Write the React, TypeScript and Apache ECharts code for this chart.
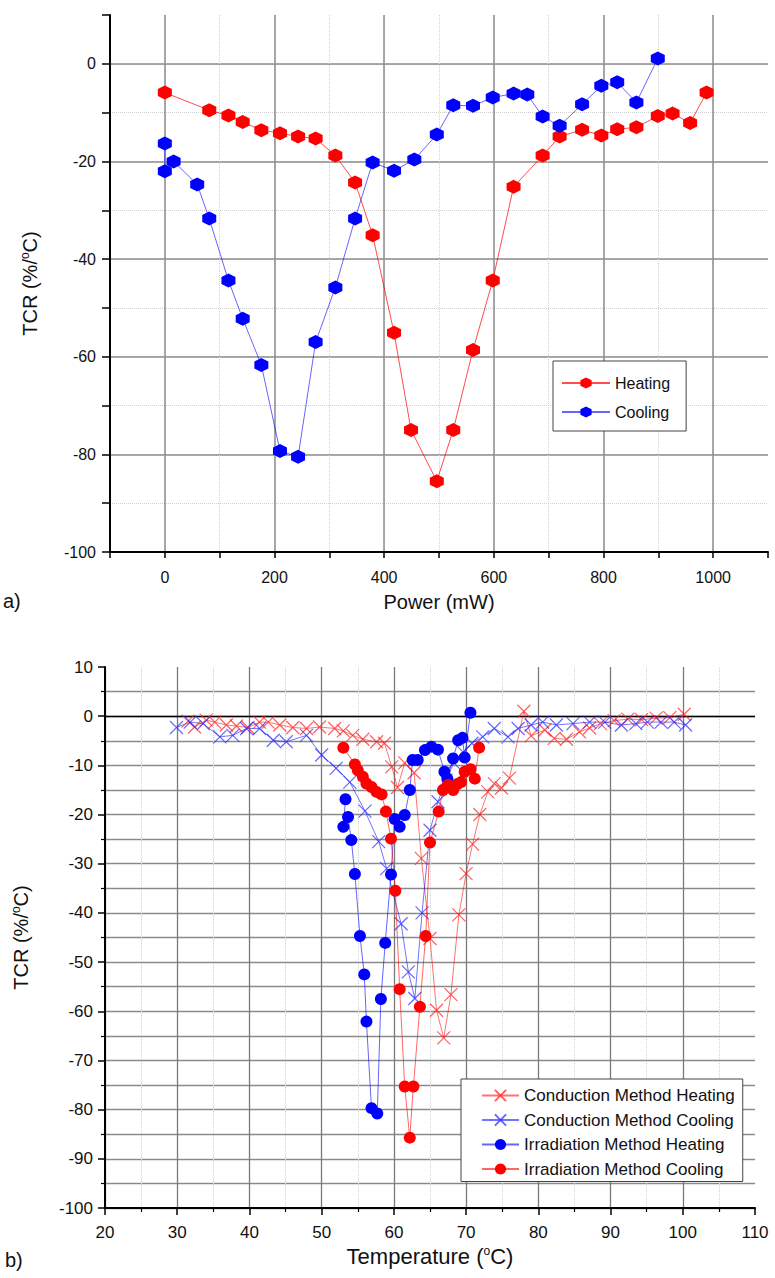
import React, { useEffect, useRef } from 'react';
import * as echarts from 'echarts';

// ---- Panel a) : TCR vs Power ----
const powerHeatingX = [0, 81, 116, 142, 176, 210, 243, 275, 311, 347, 379, 418, 449, 496, 526, 562, 598, 636, 689, 720, 761, 796, 825, 860, 899, 926, 958, 988];
const powerHeatingY = [-5.9, -9.5, -10.6, -11.9, -13.6, -14.2, -14.9, -15.3, -18.8, -24.3, -35.1, -55.1, -75.0, -85.5, -75.0, -58.6, -44.4, -25.2, -18.8, -14.9, -13.5, -14.7, -13.4, -13.0, -10.7, -10.2, -12.1, -5.9];
const powerCoolingX = [0, 0, 16, 59, 81, 116, 142, 176, 210, 243, 275, 311, 347, 379, 418, 455, 496, 526, 562, 598, 636, 661, 689, 720, 761, 796, 825, 860, 899];
const powerCoolingY = [-16.3, -22.0, -20.0, -24.7, -31.7, -44.4, -52.2, -61.7, -79.3, -80.5, -57.0, -45.8, -31.7, -20.2, -21.9, -19.6, -14.5, -8.5, -8.6, -6.9, -6.1, -6.3, -10.8, -12.7, -8.3, -4.5, -3.8, -7.9, 1.1];

// ---- Panel b) : TCR vs Temperature ----
const condHeatT = [31.5, 32.4, 34.0, 35.2, 36.8, 38.2, 39.8, 41.4, 42.6, 44.2, 46.0, 47.9, 49.7, 51.8, 53.0, 54.3, 55.7, 57.6, 58.7, 59.7, 60.5, 61.5, 62.8, 63.8, 65.0, 65.9, 66.9, 67.9, 69.0, 70.0, 70.9, 71.9, 73.0, 73.9, 74.9, 76.0, 78.0, 79.0, 80.9, 82.2, 83.9, 85.7, 87.1, 88.6, 90.5, 92.4, 94.3, 96.3, 98.2, 100.2];
const condHeatV = [-1.0, -2.2, -0.8, -1.2, -1.8, -2.0, -2.3, -1.2, -1.2, -1.8, -2.3, -2.5, -2.2, -2.5, -3.0, -3.9, -4.7, -5.2, -5.5, -10.3, -14.5, -9.5, -11.5, -28.9, -45.2, -59.8, -65.4, -56.6, -40.4, -32.0, -26.0, -20.0, -15.4, -13.7, -14.6, -12.6, 1.0, -4.0, -2.8, -4.5, -4.7, -3.2, -2.4, -1.5, -0.9, -0.6, -0.7, -0.4, -0.3, 0.4];
const condCoolT = [29.9, 31.8, 33.6, 35.9, 37.7, 39.6, 41.4, 43.3, 45.1, 47.9, 50.0, 52.0, 53.9, 56.0, 57.9, 59.0, 61.0, 62.0, 62.9, 63.9, 65.0, 66.1, 67.2, 68.3, 69.6, 70.8, 72.3, 73.9, 75.8, 77.2, 79.0, 80.6, 82.5, 84.8, 87.1, 89.2, 91.5, 93.5, 95.1, 97.0, 98.8, 100.4];
const condCoolV = [-2.3, -1.2, -1.5, -4.2, -3.9, -2.5, -2.5, -4.9, -5.2, -3.9, -7.9, -10.6, -13.4, -19.3, -25.5, -31.0, -42.2, -52.0, -57.4, -40.0, -23.2, -17.4, -13.0, -9.5, -7.3, -5.5, -4.2, -2.5, -4.2, -2.5, -1.8, -1.2, -1.8, -1.5, -1.2, -1.2, -1.8, -1.5, -1.2, -1.2, -1.2, -1.8];
const irrHeatT = [53.3, 53.0, 53.65, 54.1, 54.6, 55.3, 55.9, 56.2, 56.9, 57.7, 58.2, 58.8, 59.6, 60.1, 60.8, 61.5, 62.2, 62.6, 63.3, 64.3, 65.2, 66.1, 67.0, 67.4, 68.2, 68.9, 69.5, 69.8, 70.6];
const irrHeatV = [-16.9, -22.5, -20.5, -25.2, -32.1, -44.7, -52.5, -62.1, -79.7, -80.8, -57.5, -46.1, -32.2, -20.9, -22.5, -20.1, -15.0, -8.9, -8.9, -6.9, -6.2, -6.8, -11.3, -12.7, -8.6, -4.9, -4.4, -8.4, 0.7];
const irrCoolT = [53.0, 54.6, 55.0, 55.7, 56.2, 56.9, 57.6, 58.3, 58.9, 59.6, 60.2, 60.8, 61.5, 62.2, 62.7, 63.6, 64.4, 65.0, 66.2, 66.8, 67.5, 68.2, 68.8, 69.3, 69.8, 70.6, 71.2, 71.8];
const irrCoolV = [-6.4, -9.8, -11.0, -12.3, -13.7, -14.4, -15.4, -15.9, -19.4, -24.9, -35.5, -55.5, -75.3, -85.7, -75.3, -59.1, -44.7, -25.7, -19.4, -15.0, -14.0, -15.0, -13.8, -13.4, -11.3, -10.8, -12.7, -6.4];

const seriesNamesA = ['Heating', 'Cooling'];
const seriesNamesB = ['Conduction Method Heating', 'Conduction Method Cooling', 'Irradiation Method Heating', 'Irradiation Method Cooling'];

const pairs = (xs: number[], ys: number[]) => xs.map((x, i) => [x, ys[i]]);

const FONT = 'Liberation Sans, Arial, Helvetica, sans-serif';
const HEX = 'path://M0,-10L8.66,-5L8.66,5L0,10L-8.66,5L-8.66,-5Z';
const CROSS = 'path://M0,0L10,10M10,0L0,10';
const supRich = { sup: { fontSize: 12, fontFamily: FONT, color: '#111', verticalAlign: 'top', padding: [0, 0, 9, 0] } };

export default function App() {
  const ref = useRef<HTMLDivElement>(null);
  useEffect(() => {
    document.body.style.margin = '0';
    if (!ref.current) return;
    const chart = echarts.init(ref.current, undefined, { renderer: 'svg' });
    const axisLine = { show: true, onZero: false, lineStyle: { color: '#000', width: 2 } };
    const option: any = {
      animation: false,
      backgroundColor: '#fff',
      textStyle: { fontFamily: FONT },
      grid: [
        { left: 110, top: 15, width: 658, height: 537 },
        { left: 105, top: 667, width: 650, height: 541 },
      ],
      xAxis: [
        {
          gridIndex: 0, type: 'value', min: -100, max: 1100, interval: 100, position: 'bottom',
          axisLine,
          axisTick: { show: true, length: 6, lineStyle: { color: '#000', width: 1.5 } },
          axisLabel: {
            formatter: (v: number) => (v % 200 === 0 && v >= 0 && v <= 1000 ? String(v) : ''),
            fontSize: 16, color: '#111', margin: 17, fontFamily: FONT,
          },
          splitLine: { show: true, showMaxLine: false, lineStyle: { color: '#cfcfcf', type: 'dotted', width: 1 } },
          name: 'Power (mW)', nameLocation: 'middle', nameGap: 40,
          nameTextStyle: { fontSize: 20, color: '#111', fontFamily: FONT },
        },
        {
          gridIndex: 0, type: 'value', min: -100, max: 1100, interval: 100, position: 'bottom',
          axisLine: { show: false }, axisTick: { show: false }, axisLabel: { show: false },
          splitLine: { show: true, lineStyle: { color: ['rgba(0,0,0,0)', '#8c8c8c'], width: 1.5 } },
        },
        {
          gridIndex: 1, type: 'value', min: 20, max: 110, interval: 10,
          axisLine,
          axisTick: { show: true, length: 7, lineStyle: { color: '#000', width: 1.5 } },
          minorTick: { show: true, splitNumber: 2, length: 4, lineStyle: { color: '#000', width: 1.2 } },
          axisLabel: { fontSize: 17, color: '#111', margin: 16, fontFamily: FONT },
          splitLine: { show: true, showMaxLine: false, lineStyle: { color: '#7a7a7a', width: 1.3 } },
          minorSplitLine: { show: true, lineStyle: { color: '#d0d0d0', type: 'dotted', width: 1 } },
          name: 'Temperature ({sup|o}C)', nameLocation: 'middle', nameGap: 37,
          nameTextStyle: { fontSize: 22, color: '#111', fontFamily: FONT, rich: supRich },
        },
      ],
      yAxis: [
        {
          gridIndex: 0, type: 'value', min: -100, max: 10, interval: 10,
          axisLine,
          axisTick: { show: true, length: 8, lineStyle: { color: '#000', width: 1.5 } },
          axisLabel: {
            formatter: (v: number) => (v % 20 === 0 && v <= 0 ? String(v) : ''),
            fontSize: 16, color: '#111', margin: 14, fontFamily: FONT,
          },
          splitLine: { show: true, showMaxLine: false, lineStyle: { color: '#cfcfcf', type: 'dotted', width: 1 } },
          name: 'TCR (%/{sup|o}C)', nameLocation: 'middle', nameGap: 70,
          nameTextStyle: { fontSize: 20, color: '#111', fontFamily: FONT, rich: supRich },
        },
        {
          gridIndex: 0, type: 'value', min: -100, max: 10, interval: 10,
          axisLine: { show: false }, axisTick: { show: false }, axisLabel: { show: false },
          splitLine: { show: true, lineStyle: { color: ['#8c8c8c', 'rgba(0,0,0,0)'], width: 1.5 } },
        },
        {
          gridIndex: 1, type: 'value', min: -100, max: 10, interval: 10,
          axisLine,
          axisTick: { show: true, length: 7, lineStyle: { color: '#000', width: 1.5 } },
          minorTick: { show: true, splitNumber: 2, length: 4, lineStyle: { color: '#000', width: 1.2 } },
          axisLabel: { fontSize: 17, color: '#111', margin: 12, fontFamily: FONT },
          splitLine: { show: true, showMaxLine: false, lineStyle: { color: '#8a8a8a', width: 1.3 } },
          minorSplitLine: { show: true, lineStyle: { color: '#8a8a8a', width: 1.3 } },
          name: 'TCR (%/{sup|o}C)', nameLocation: 'middle', nameGap: 74,
          nameTextStyle: { fontSize: 20, color: '#111', fontFamily: FONT, rich: supRich },
        },
      ],
      legend: [
        {
          data: seriesNamesA, orient: 'vertical', left: 553, top: 361,
          itemWidth: 48, itemHeight: 14, itemGap: 13, padding: [14, 16, 11, 8],
          borderColor: '#444', borderWidth: 1, backgroundColor: '#fff',
          textStyle: { fontSize: 16, color: '#111', fontFamily: FONT },
        },
        {
          data: seriesNamesB, orient: 'vertical', left: 461, top: 1079,
          itemWidth: 37, itemHeight: 14, itemGap: 7.5, padding: [8, 8, 4, 20],
          borderColor: '#444', borderWidth: 1, backgroundColor: '#fff',
          textStyle: { fontSize: 17, color: '#111', fontFamily: FONT },
        },
      ],
      graphic: [
        { type: 'text', left: 3, top: 591, style: { text: 'a)', fontSize: 20, fill: '#111', fontFamily: FONT } },
        { type: 'text', left: 5, top: 1250, style: { text: 'b)', fontSize: 20, fill: '#111', fontFamily: FONT } },
      ],
      series: [
        {
          name: 'Heating', type: 'line', xAxisIndex: 0, yAxisIndex: 0, data: pairs(powerHeatingX, powerHeatingY),
          symbol: HEX, symbolSize: 14, itemStyle: { color: '#ff0000' },
          lineStyle: { color: 'rgba(255,0,0,0.7)', width: 1 }, z: 3,
        },
        {
          name: 'Cooling', type: 'line', xAxisIndex: 0, yAxisIndex: 0, data: pairs(powerCoolingX, powerCoolingY),
          symbol: HEX, symbolSize: 14, itemStyle: { color: '#0000ff' },
          lineStyle: { color: 'rgba(0,0,255,0.6)', width: 1 }, z: 3,
        },
        {
          name: 'Conduction Method Heating', type: 'line', xAxisIndex: 2, yAxisIndex: 2, data: pairs(condHeatT, condHeatV),
          symbol: CROSS, symbolSize: 13,
          itemStyle: { color: 'rgba(255,0,0,0)', borderColor: 'rgba(255,30,30,0.7)', borderWidth: 1.2 },
          lineStyle: { color: 'rgba(255,0,0,0.55)', width: 1 }, z: 3,
          markLine: {
            silent: true, symbol: ['none', 'none'], label: { show: false },
            lineStyle: { color: '#000', width: 1.3, type: 'solid' }, data: [{ yAxis: 0 }], z: 1,
          },
        },
        {
          name: 'Conduction Method Cooling', type: 'line', xAxisIndex: 2, yAxisIndex: 2, data: pairs(condCoolT, condCoolV),
          symbol: CROSS, symbolSize: 13,
          itemStyle: { color: 'rgba(0,0,255,0)', borderColor: 'rgba(40,40,255,0.7)', borderWidth: 1.2 },
          lineStyle: { color: 'rgba(0,0,255,0.55)', width: 1 }, z: 3,
        },
        {
          name: 'Irradiation Method Heating', type: 'line', xAxisIndex: 2, yAxisIndex: 2, data: pairs(irrHeatT, irrHeatV),
          symbol: 'circle', symbolSize: 12, itemStyle: { color: '#0000ff' },
          lineStyle: { color: 'rgba(0,0,255,0.6)', width: 1 }, z: 4,
        },
        {
          name: 'Irradiation Method Cooling', type: 'line', xAxisIndex: 2, yAxisIndex: 2, data: pairs(irrCoolT, irrCoolV),
          symbol: 'circle', symbolSize: 12, itemStyle: { color: '#ff0000' },
          lineStyle: { color: 'rgba(255,0,0,0.6)', width: 1 }, z: 4,
        },
      ],
    };
    chart.setOption(option);
    return () => chart.dispose();
  }, []);
  return <div ref={ref} style={{ width: 775, height: 1278 }} />;
}
